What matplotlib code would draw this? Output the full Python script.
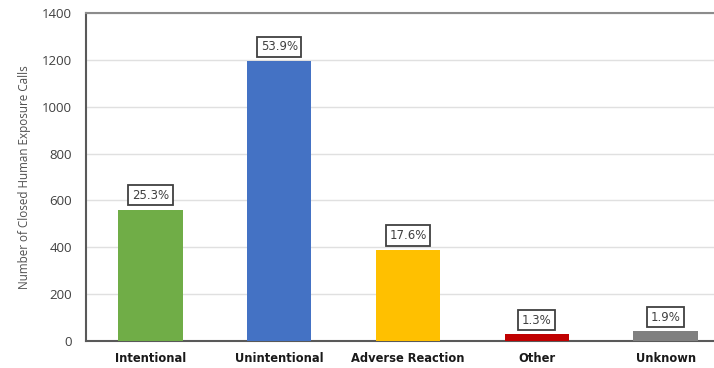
import matplotlib
matplotlib.use("Agg")
import matplotlib.pyplot as plt

categories = ["Intentional", "Unintentional", "Adverse Reaction", "Other", "Unknown"]
calls = [561, 1196, 390, 29, 42]
percent_labels = ["25.3%", "53.9%", "17.6%", "1.3%", "1.9%"]
bar_colors = ["#70AD47", "#4472C4", "#FFC000", "#C00000", "#808080"]
y_ticks = [0, 200, 400, 600, 800, 1000, 1200, 1400]

fig = plt.figure(figsize=(7.14, 3.68), dpi=100)
ax = fig.add_axes([86 / 714, 27 / 368, 644 / 714, 328 / 368])

x = list(range(len(categories)))
ax.bar(x, calls, width=0.5, color=bar_colors, zorder=3)

for xi, val, lab in zip(x, calls, percent_labels):
    ax.annotate(lab, (xi, val), xytext=(0, 5.5), textcoords="offset points",
                ha="center", va="bottom", fontsize=8.5, color="#404040",
                family="DejaVu Sans",
                bbox=dict(boxstyle="square,pad=0.3", fc="white", ec="#404040", lw=1.3),
                zorder=4)

ax.set_xlim(-0.5, 4.5)
ax.set_ylim(0, 1400)
ax.set_yticks(y_ticks)
ax.set_xticks(x)
ax.set_xticklabels(categories, fontsize=8.3, fontweight="bold", color="#1a1a1a",
                   family="DejaVu Sans")
ax.tick_params(axis="y", labelsize=9.5, labelcolor="#404040", length=0, pad=10)
ax.tick_params(axis="x", length=0, pad=8)
for t in ax.get_yticklabels():
    t.set_family("Open Sans")

ax.grid(axis="y", color="#e0e0e0", lw=1, zorder=0)
ax.spines["right"].set_visible(False)
ax.spines["top"].set_color("#8c8c8c")
ax.spines["top"].set_linewidth(1.5)
ax.spines["left"].set_color("#595959")
ax.spines["left"].set_linewidth(1.5)
ax.spines["bottom"].set_color("#595959")
ax.spines["bottom"].set_linewidth(1.5)

ax.set_ylabel("Number of Closed Human Exposure Calls", fontsize=8.4, color="#505050",
              family="Open Sans", labelpad=8)

fig.savefig("out.png", dpi=100)
